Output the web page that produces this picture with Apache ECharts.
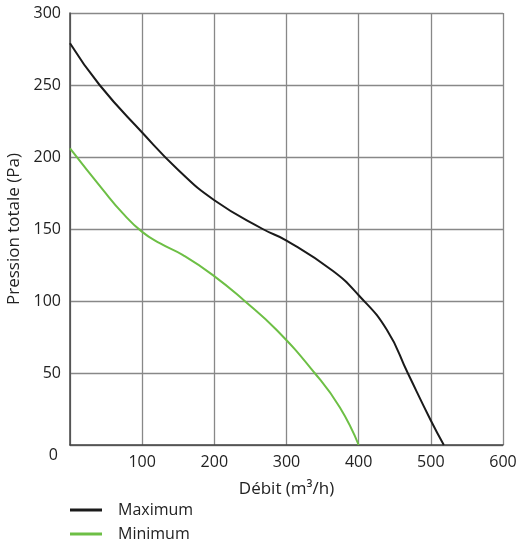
<!DOCTYPE html>
<html><head><meta charset="utf-8">
<script src="https://cdn.jsdelivr.net/npm/echarts@6/dist/echarts.min.js"></script>
<style>html,body{margin:0;padding:0;background:#fff}#c{width:520px;height:541px}</style>
</head><body><div id="c"></div>
<script>
const maxFlow = [0, 41, 100, 150, 200, 267, 300, 364, 400, 439, 468, 500, 518];
const maxPressure = [279, 250, 217, 191, 170, 150, 142, 121, 104, 80, 50, 17, 0];
const minFlow = [0, 46, 73, 100, 125, 156, 198, 242, 286, 339, 374, 400];
const minPressure = [206, 177, 161, 148, 140, 132, 118, 100, 80, 50, 26, 0];
const seriesNames = ['Maximum', 'Minimum'];

const font = 'Open Sans';
const legendBase = {
  orient: 'vertical', left: 70, padding: 0,
  icon: 'rect', itemWidth: 32, itemHeight: 3,
  textStyle: {fontFamily: font, fontSize: 16, lineHeight: 18, color: '#222', padding: [0, 0, 0, 11]}
};
const chart = echarts.init(document.getElementById('c'));
chart.setOption({
  animation: false,
  grid: {left: 70, right: 17, top: 13, bottom: 96, containLabel: false, outerBoundsMode: 'none'},
  xAxis: {
    type: 'value', min: 0, max: 600, interval: 100,
    name: 'Débit (m³/h)', nameLocation: 'middle', nameGap: 36,
    nameTextStyle: {fontFamily: font, fontSize: 17, color: '#222'},
    axisLine: {show: true, lineStyle: {color: '#444', width: 1.5}},
    axisTick: {show: false},
    axisLabel: {fontFamily: font, fontSize: 16, color: '#222', margin: 9,
      formatter: v => v === 0 ? '' : String(v)},
    splitLine: {show: true, lineStyle: {color: '#888', width: 1.3}}
  },
  yAxis: {
    type: 'value', min: 0, max: 300, interval: 50,
    name: 'Pression totale (Pa)', nameLocation: 'middle', nameGap: 44,
    nameTextStyle: {fontFamily: font, fontSize: 17, color: '#222'},
    axisLine: {show: true, lineStyle: {color: '#444', width: 1.5}},
    axisTick: {show: false},
    axisLabel: {fontFamily: font, fontSize: 16, color: '#222', margin: 9,
      formatter: v => v === 0 ? '{z|0}' : String(v),
      rich: {z: {fontFamily: font, fontSize: 16, color: '#222', padding: [20, 3, 0, 0]}}},
    splitLine: {show: true, lineStyle: {color: '#888', width: 1.3}}
  },
  legend: [
    Object.assign({}, legendBase, {top: 501, data: [seriesNames[0]]}),
    Object.assign({}, legendBase, {top: 525, data: [seriesNames[1]]})
  ],
  series: [
    {name: seriesNames[0], type: 'line', smooth: 0.5, symbol: 'none',
     lineStyle: {color: '#1a1a1a', width: 2}, itemStyle: {color: '#1a1a1a'},
     data: maxFlow.map((x, i) => [x, maxPressure[i]])},
    {name: seriesNames[1], type: 'line', smooth: 0.5, symbol: 'none',
     lineStyle: {color: '#6dbf45', width: 2}, itemStyle: {color: '#6dbf45'},
     data: minFlow.map((x, i) => [x, minPressure[i]])}
  ]
});
</script></body></html>
